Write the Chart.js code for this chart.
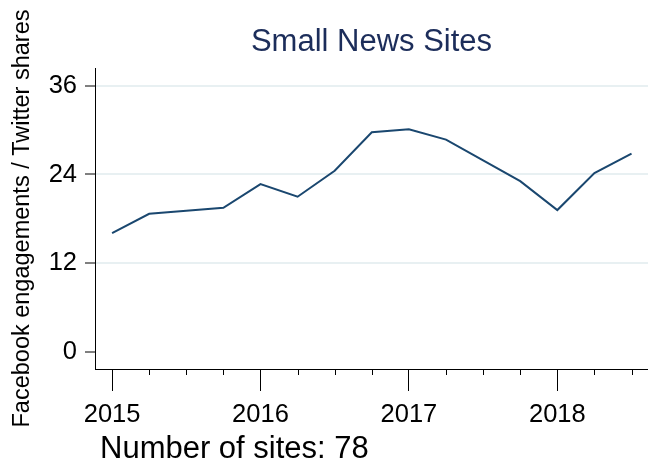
<!DOCTYPE html>
<html>
<head>
<meta charset="utf-8">
<script src="https://cdn.jsdelivr.net/npm/chart.js@4/dist/chart.umd.min.js"></script>
<style>
  html, body { margin: 0; padding: 0; background: #ffffff; }
  canvas { display: block; }
</style>
</head>
<body>
<canvas id="c" width="648" height="463"></canvas>
<script>
// ---- data ----
const quarters = [2015.00, 2015.25, 2015.50, 2015.75, 2016.00, 2016.25, 2016.50, 2016.75,
                  2017.00, 2017.25, 2017.50, 2017.75, 2018.00, 2018.25, 2018.50];
const ratio = [16.1, 18.7, 19.1, 19.5, 22.7, 21.0, 24.5, 29.7,
               30.1, 28.7, 25.9, 23.1, 19.2, 24.2, 26.8];
const xTickYears = [2015, 2016, 2017, 2018];
const xMinorTicks = [2015.25, 2015.5, 2015.75, 2016.25, 2016.5, 2016.75,
                     2017.25, 2017.5, 2017.75, 2018.25, 2018.5];
const yTicks = [0, 12, 24, 36];
const chartTitle = 'Small News Sites';
const yTitle = 'Facebook engagements / Twitter shares';
const footnote = 'Number of sites: 78';

const FONT = "'Liberation Sans', Arial, Helvetica, sans-serif";

const minorTickPlugin = {
  id: 'minorTicks',
  afterDraw(chart) {
    const xs = chart.scales.x;
    const ctx = chart.ctx;
    const y0 = chart.chartArea.bottom;
    ctx.save();
    ctx.strokeStyle = '#000000';
    ctx.lineWidth = 1;
    xMinorTicks.forEach(v => {
      const px = Math.round(xs.getPixelForValue(v)) + 0.5;
      ctx.beginPath();
      ctx.moveTo(px, y0);
      ctx.lineTo(px, y0 + 6);
      ctx.stroke();
    });
    ctx.restore();
  }
};

const footnotePlugin = {
  id: 'footnote',
  afterDraw(chart) {
    const ctx = chart.ctx;
    ctx.save();
    ctx.font = "31px " + FONT;
    ctx.fillStyle = '#000000';
    ctx.textAlign = 'left';
    ctx.textBaseline = 'alphabetic';
    ctx.fillText(footnote, 100, 457.5);
    ctx.restore();
  }
};

new Chart(document.getElementById('c'), {
  type: 'line',
  data: {
    datasets: [{
      data: quarters.map((q, i) => ({ x: q, y: ratio[i] })),
      borderColor: '#1a476f',
      borderWidth: 2,
      pointRadius: 0,
      tension: 0,
      fill: false
    }]
  },
  options: {
    responsive: false,
    devicePixelRatio: 1,
    animation: false,
    layout: { padding: 0 },
    plugins: {
      legend: { display: false },
      tooltip: { enabled: false },
      title: {
        display: true,
        text: chartTitle,
        fullSize: false,
        color: '#1c2d5a',
        font: { family: FONT, size: 31, weight: 'normal' },
        padding: { top: 24, bottom: 6.8 }
      }
    },
    scales: {
      x: {
        type: 'linear',
        min: 2014.885,
        max: 2018.611,
        afterFit: s => { s.height = 94; },
        afterBuildTicks: s => { s.ticks = xTickYears.map(v => ({ value: v })); },
        ticks: {
          color: '#000000',
          font: { family: FONT, size: 25.5 },
          padding: 9,
          maxRotation: 0,
          autoSkip: false,
          callback: v => String(v)
        },
        grid: {
          drawOnChartArea: false,
          drawTicks: true,
          tickLength: 22,
          tickColor: '#000000',
          tickWidth: 1
        },
        border: { display: true, color: '#000000', width: 1 }
      },
      y: {
        type: 'linear',
        min: -2.25,
        max: 38.37,
        afterFit: s => { s.width = 95; },
        afterBuildTicks: s => { s.ticks = yTicks.map(v => ({ value: v })); },
        ticks: {
          color: '#000000',
          font: { family: FONT, size: 25.5 },
          padding: 8,
          autoSkip: false,
          callback: v => String(v)
        },
        grid: {
          color: c => (c.tick && c.tick.value === 0) ? 'rgba(0,0,0,0)' : '#e8f0f2',
          lineWidth: 2,
          drawTicks: true,
          tickLength: 10,
          tickColor: '#000000',
          tickWidth: 1
        },
        border: { display: true, color: '#000000', width: 1 },
        title: {
          display: true,
          text: yTitle,
          color: '#000000',
          font: { family: FONT, size: 23.5 },
          padding: { top: 8, bottom: 0 }
        }
      }
    }
  },
  plugins: [minorTickPlugin, footnotePlugin]
});
</script>
</body>
</html>
